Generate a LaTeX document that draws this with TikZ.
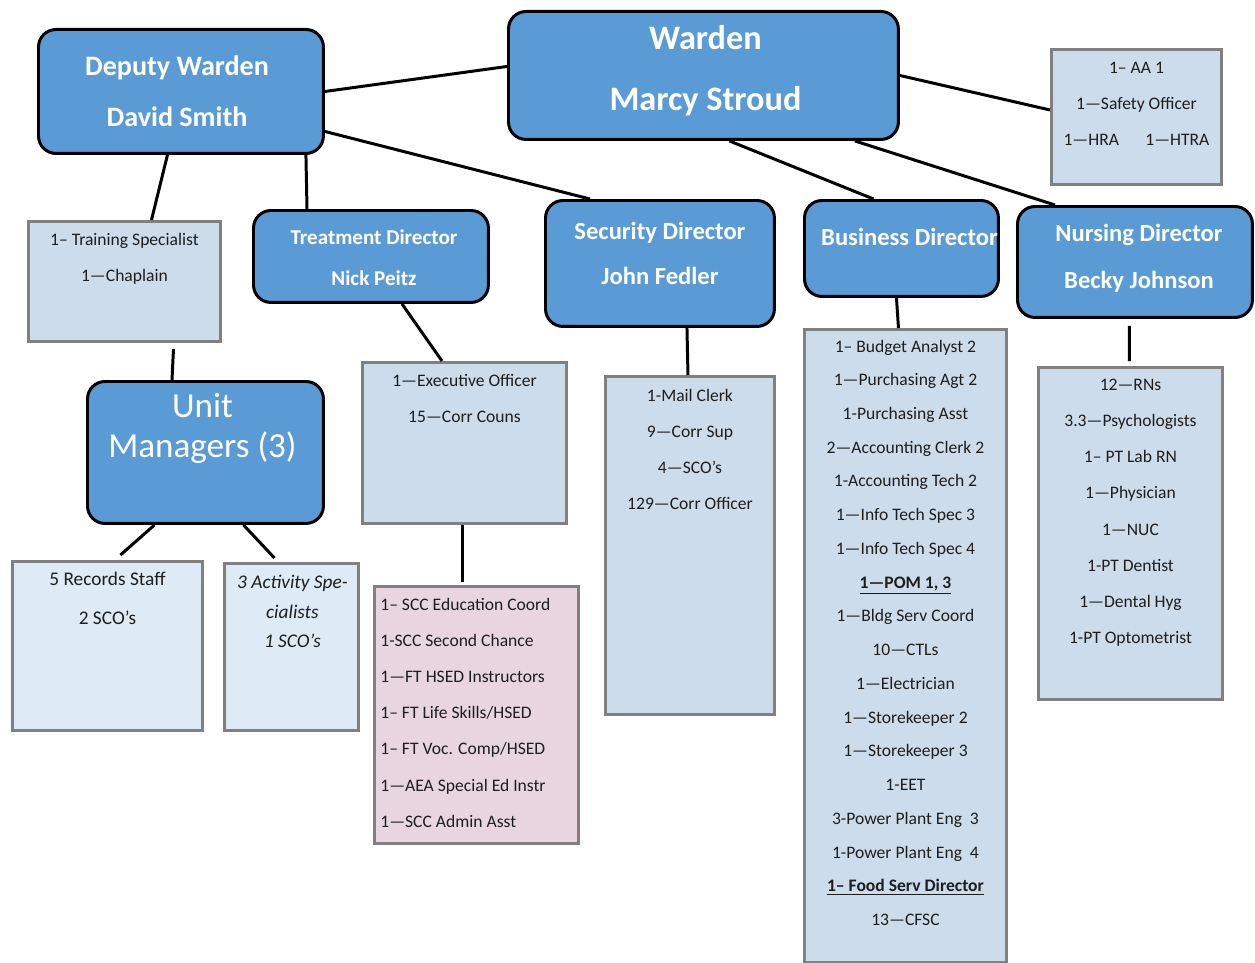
\documentclass[tikz,border=0pt]{standalone}
\usepackage{fontspec}
\setmainfont{Carlito}
\usepackage{tikz}
\usetikzlibrary{positioning, calc}
\definecolor{chartblue}{RGB}{91,155,213}
\definecolor{staffblue}{RGB}{204,220,235}
\definecolor{paleblue}{RGB}{222,234,246}
\definecolor{palepink}{RGB}{232,213,224}
\definecolor{boxgray}{RGB}{128,128,128}
\definecolor{textgray}{RGB}{30,30,30}
\newcommand{\boxfont}[2]{\fontsize{#1}{#2}\selectfont}

\begin{document}
\begin{tikzpicture}[
    x=0.02cm, y=-0.02cm,
    headbox/.style={draw=black, fill=chartblue, line width=1.7pt, rounded corners=10pt, anchor=north west, inner sep=0pt},
    staffbox/.style={draw=boxgray, fill=staffblue, line width=1.7pt, anchor=north west, inner sep=0pt},
    headtext/.style={text=white, align=center, inner sep=0pt},
    stafftext/.style={text=textgray, align=center, inner sep=0pt, anchor=north},
    link/.style={line width=1.7pt, draw=black}
]
    \useasboundingbox (0,0) rectangle (1255,963);

    % Top level
    \node[headbox, minimum width=7.8cm, minimum height=2.56cm] (warden) at (507,10) {};
    \node[headtext, font=\boxfont{19.5}{35}\bfseries] at ($(warden.center)+(2,-5)$) {Warden\\Marcy Stroud};

    \node[headbox, minimum width=5.7cm, minimum height=2.48cm] (deputy) at (37,28) {};
    \node[headtext, font=\boxfont{16}{29}\bfseries] at ($(deputy.center)+(-4,0)$) {Deputy Warden\\David Smith};

    \node[staffbox, minimum width=3.4cm, minimum height=2.7cm] (admin) at (1050,48) {};
    \node[stafftext, font=\boxfont{10}{20.7}] at ($(admin.north)+(0,13.5)$) {1– AA 1\\1—Safety Officer\\1—HRA\hspace{15pt}1—HTRA};

    % Directors
    \node[headbox, minimum width=4.7cm, minimum height=1.84cm] (treat) at (252,209) {};
    \node[headtext, font=\boxfont{12}{23}\bfseries] at ($(treat.center)+(3,1)$) {Treatment Director\\Nick Peitz};

    \node[headbox, minimum width=4.58cm, minimum height=2.52cm] (security) at (544,199) {};
    \node[headtext, font=\boxfont{14}{26}\bfseries] at ($(security.center)+(0,-10)$) {Security Director\\John Fedler};

    \node[headbox, minimum width=3.88cm, minimum height=1.92cm] (business) at (803,199) {};
    \node[headtext, font=\boxfont{14}{26}\bfseries] at ($(business.center)+(8,-12)$) {Business Director};

    \node[headbox, minimum width=4.7cm, minimum height=2.22cm] (nursing) at (1016,205) {};
    \node[headtext, font=\boxfont{14}{26.6}\bfseries] at ($(nursing.center)+(4,-4)$) {Nursing Director\\Becky Johnson};

    % Deputy side
    \node[staffbox, minimum width=3.84cm, minimum height=2.4cm] (training) at (27,220) {};
    \node[stafftext, font=\boxfont{10}{21}] at ($(training.north)+(0,12.5)$) {1– Training Specialist\\1—Chaplain};

    \node[headbox, minimum width=4.72cm, minimum height=2.84cm] (unitmgr) at (86,380) {};
    \node[headtext, font=\boxfont{20}{23}] at ($(unitmgr.center)+(-3,-24)$) {Unit\\Managers (3)};

    \node[staffbox, fill=paleblue, minimum width=3.8cm, minimum height=3.38cm] (records) at (11,560) {};
    \node[stafftext, font=\boxfont{11}{22.1}] at ($(records.north)+(0,11.5)$) {5 Records Staff\\2 SCO’s};

    \node[staffbox, fill=paleblue, minimum width=2.68cm, minimum height=3.34cm] (activity) at (223,562) {};
    \node[stafftext, font=\boxfont{11}{17}\itshape] at ($(activity.north)+(1,12.5)$) {3 Activity Spe-\\cialists\\1 SCO’s};

    % Treatment side
    \node[staffbox, minimum width=4.08cm, minimum height=3.22cm] (exec) at (361,361) {};
    \node[stafftext, font=\boxfont{10}{21}] at ($(exec.north)+(0,12.5)$) {1—Executive Officer\\15—Corr Couns};

    \node[staffbox, fill=palepink, minimum width=4.08cm, minimum height=5.14cm] (scc) at (373,585) {};
    \node[stafftext, align=left, anchor=north west, font=\boxfont{10}{20.6}] at ($(scc.north west)+(7,12.5)$) {1– SCC Education Coord\\1-SCC Second Chance\\1—FT HSED Instructors\\1– FT Life Skills/HSED\\1– FT Voc. Comp/HSED\\1—AEA Special Ed Instr\\1—SCC Admin Asst};

    % Security, business, nursing staff
    \node[staffbox, minimum width=3.38cm, minimum height=6.76cm] (mail) at (604,375) {};
    \node[stafftext, font=\boxfont{10}{20.6}] at ($(mail.north)+(0,13.5)$) {1-Mail Clerk\\9—Corr Sup\\4—SCO’s\\129—Corr Officer};

    \node[staffbox, minimum width=4.04cm, minimum height=12.66cm] (busstaff) at (803,328) {};
    \node[stafftext, font=\boxfont{10}{19.2}] at ($(busstaff.north)+(0,11.5)$) {1– Budget Analyst 2\\1—Purchasing Agt 2\\1-Purchasing Asst\\2—Accounting Clerk 2\\1-Accounting Tech 2\\1—Info Tech Spec 3\\1—Info Tech Spec 4\\\underline{\textbf{1—POM 1, 3}}\\1—Bldg Serv Coord\\10—CTLs\\1—Electrician\\1—Storekeeper 2\\1—Storekeeper 3\\1-EET\\3-Power Plant Eng\ \ 3\\1-Power Plant Eng\ \ 4\\\underline{\textbf{1– Food Serv Director}}\\13—CFSC};

    \node[staffbox, minimum width=3.68cm, minimum height=6.64cm] (nursestaff) at (1037,366) {};
    \node[stafftext, font=\boxfont{10}{20.6}] at ($(nursestaff.north)+(0,12.5)$) {12—RNs\\3.3—Psychologists\\1– PT Lab RN\\1—Physician\\1—NUC\\1-PT Dentist\\1—Dental Hyg\\1-PT Optometrist};

    % Connectors
    \draw[link] (deputy.east) -- ($(warden.west)+(0,-9)$);
    \draw[link] ($(deputy.east)+(0,40)$) -- ($(security.north west)+(46,0)$);
    \draw[link] ($(deputy.south)+(-13.5,0)$) -- ($(training.north)+(27,0)$);
    \draw[link] ($(deputy.south east)+(-19,0)$) -- ($(treat.north west)+(55,0)$);
    \draw[link] (warden.east) -- ($(admin.west)+(0,-7)$);
    \draw[link] ($(warden.south)+(26,0)$) -- ($(business.north)+(-28,0)$);
    \draw[link] ($(warden.south east)+(-45,0)$) -- ($(nursing.north west)+(39,0)$);
    \draw[link] ($(training.south)+(49,6)$) -- ($(unitmgr.north west)+(86,0)$);
    \draw[link] ($(treat.south west)+(150,0)$) -- ($(exec.north west)+(81,0)$);
    \draw[link] ($(security.south)+(27,0)$) -- ($(mail.north)+(-2,0)$);
    \draw[link] ($(business.south)+(-5,0)$) -- ($(busstaff.north)+(-7,0)$);
    \draw[link] ($(nursing.south)+(-5.5,7)$) -- ($(nursestaff.north)+(-1,-5)$);
    \draw[link] ($(unitmgr.south)+(-51,0)$) -- ($(records.north)+(13,-5)$);
    \draw[link] ($(unitmgr.south)+(38,0)$) -- ($(activity.north)+(-17,-4)$);
    \draw[link] ($(exec.south)+(-2,0)$) -- ($(scc.north)+(-14,-3)$);
\end{tikzpicture}
\end{document}
